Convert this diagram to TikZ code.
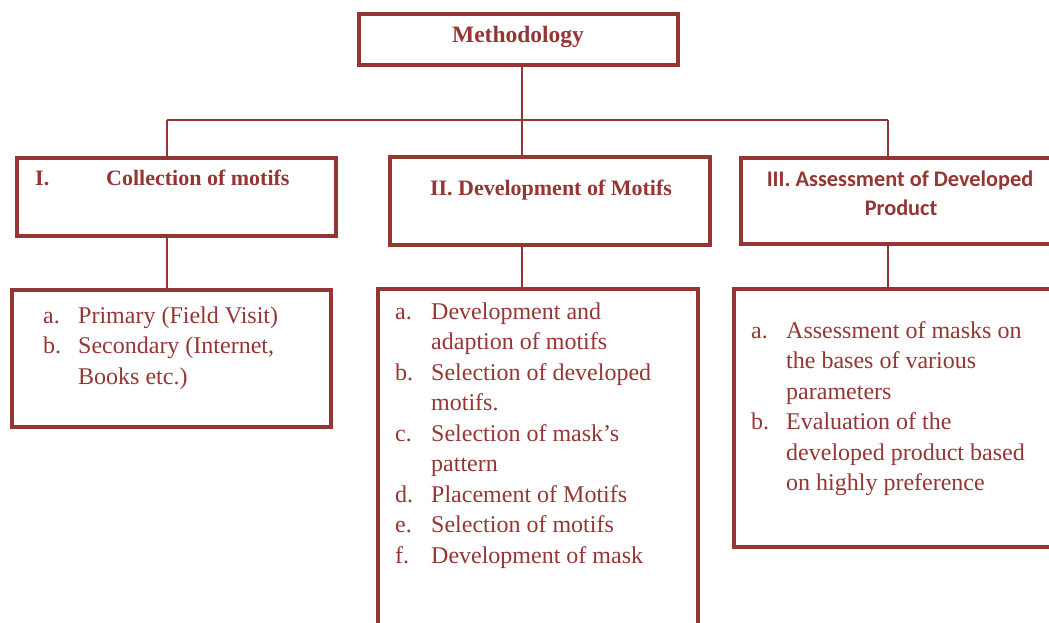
\documentclass[tikz,border=0pt]{standalone}
\usepackage{fontspec}
\setmainfont{Liberation Serif}
\newfontfamily\headsans{Carlito}
\definecolor{mred}{HTML}{943634}
\begin{document}
\begin{tikzpicture}[x=1pt,y=-1pt,
  box/.style={draw=mred, line width=4pt, inner sep=0pt, outer sep=0pt, anchor=north west},
  link/.style={draw=mred, line width=1.3pt},
  head/.style={text=mred, font=\fontsize{22}{26}\selectfont\bfseries, inner sep=0pt},
  sanshead/.style={text=mred, font=\headsans\fontsize{22.3}{29}\selectfont\bfseries, inner sep=0pt, anchor=base},
  list/.style={text=mred, font=\fontsize{24}{30.5}\selectfont, inner sep=0pt, anchor=base west}]
\useasboundingbox (0,0) rectangle (1049,623);
\clip (0,0) rectangle (1049,623);
% boxes
\node[box, minimum width=319pt, minimum height=51pt] (m) at (359,14) {};
\node[box, minimum width=319pt, minimum height=78pt] (b1) at (17,158) {};
\node[box, minimum width=320pt, minimum height=88pt] (b2) at (390,157) {};
\node[box, minimum width=320pt, minimum height=86pt] (b3) at (741,158) {};
\node[box, minimum width=319pt, minimum height=137pt] (l1) at (12,290) {};
\node[box, minimum width=320pt, minimum height=360pt] (l2) at (378,289) {};
\node[box, minimum width=330pt, minimum height=258pt] (l3) at (734,289) {};
% headings
\node[head, font=\fontsize{23.5}{26}\selectfont\bfseries, anchor=base] (mt) at (518,43) {Methodology};
\node[head, anchor=base west] (h1a) at (35,185) {I.};
\node[head, anchor=base west] (h1b) at (106,185) {Collection of motifs};
\node[head, anchor=base] (h2) at (551,195) {II. Development of Motifs};
\node[sanshead] (h3a) at (900,186) {III. Assessment of Developed};
\node[sanshead] (h3b) at (901,215) {Product};
% lists
\node[list] (t1) at (43,323) {\begin{tabular}[t]{@{}p{35pt}@{}l@{}}
a. & Primary (Field Visit)\\
b. & Secondary (Internet,\\
   & Books etc.)\end{tabular}};
\node[list] (t2) at (395,319) {\begin{tabular}[t]{@{}p{36pt}@{}l@{}}
a. & Development and\\
   & adaption of motifs\\
b. & Selection of developed\\
   & motifs.\\
c. & Selection of mask’s\\
   & pattern\\
d. & Placement of Motifs\\
e. & Selection of motifs\\
f. & Development of mask\end{tabular}};
\node[list] (t3) at (751,338) {\begin{tabular}[t]{@{}p{35pt}@{}l@{}}
a. & Assessment of masks on\\
   & the bases of various\\
   & parameters\\
b. & Evaluation of the\\
   & developed product based\\
   & on highly preference\end{tabular}};
% connectors
\coordinate (j1) at (167,120);
\coordinate (j2) at (522,120);
\coordinate (j3) at (888,120);
\draw[link] (j2 |- m.south) -- (j2);
\draw[link] (j1) -- (j3);
\draw[link] (j1) -- (j1 |- b1.north);
\draw[link] (j2) -- (j2 |- b2.north);
\draw[link] (j3) -- (j3 |- b3.north);
\draw[link] (j1 |- b1.south) -- (j1 |- l1.north);
\draw[link] (j2 |- b2.south) -- (j2 |- l2.north);
\draw[link] (j3 |- b3.south) -- (j3 |- l3.north);
\end{tikzpicture}
\end{document}
